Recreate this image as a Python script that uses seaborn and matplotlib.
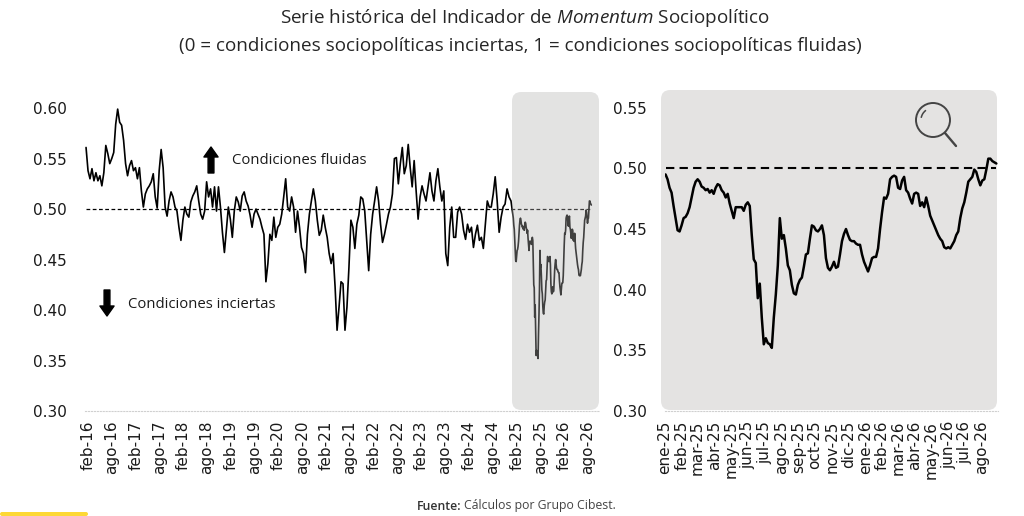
import matplotlib.pyplot as plt
import matplotlib.patches as mpatches
import matplotlib.lines as mlines
import pandas as pd
import seaborn as sns

meses = ["ene", "feb", "mar", "abr", "may", "jun", "jul", "ago", "sep", "oct", "nov", "dic"]

# Serie histórica (lectura aprox. quincenal), ene-16 a dic-24
hist_2016_2019 = [
    0.561, 0.538, 0.530, 0.540, 0.528, 0.536, 0.528, 0.533, 0.523, 0.536,
    0.563, 0.555, 0.545, 0.550, 0.556, 0.584, 0.599, 0.586, 0.583, 0.568,
    0.545, 0.533, 0.543, 0.548, 0.538, 0.541, 0.530, 0.541, 0.518, 0.502,
    0.515, 0.520, 0.523, 0.527, 0.535, 0.512, 0.501, 0.538, 0.559, 0.541,
    0.502, 0.493, 0.508, 0.517, 0.512, 0.502, 0.498, 0.482, 0.469, 0.489,
    0.502, 0.495, 0.492, 0.507, 0.513, 0.517, 0.523, 0.508, 0.495, 0.490,
    0.498, 0.527, 0.512, 0.520, 0.502, 0.522, 0.498, 0.522, 0.502, 0.477,
    0.457, 0.479, 0.502, 0.490, 0.472, 0.498, 0.512, 0.507, 0.498, 0.513,
    0.517, 0.508, 0.503, 0.494, 0.482, 0.495,
]
hist_2019_2022 = [
    0.500, 0.495, 0.490, 0.482, 0.475, 0.428, 0.446, 0.475, 0.469, 0.492,
    0.472, 0.482, 0.485, 0.495, 0.512, 0.530, 0.502, 0.498, 0.512, 0.502,
    0.477, 0.498, 0.482, 0.462, 0.456, 0.437, 0.475, 0.495, 0.508, 0.520,
    0.508, 0.489, 0.474, 0.479, 0.494, 0.482, 0.472, 0.456, 0.446, 0.456,
    0.423, 0.380, 0.403, 0.428, 0.426, 0.380, 0.403, 0.442, 0.489, 0.482,
    0.461, 0.485, 0.494, 0.512, 0.510, 0.498, 0.469, 0.439, 0.475, 0.495,
    0.508, 0.522, 0.508, 0.485, 0.467, 0.475, 0.485, 0.495, 0.502, 0.515,
    0.550, 0.551, 0.525, 0.545, 0.561, 0.535, 0.543, 0.564, 0.541, 0.522,
    0.548, 0.518, 0.490, 0.512, 0.523, 0.515, 0.508, 0.522,
]
hist_2022_2024 = [
    0.536, 0.518, 0.508, 0.528, 0.540, 0.522, 0.508, 0.518, 0.456, 0.444,
    0.482, 0.502, 0.472, 0.472, 0.497, 0.502, 0.495, 0.479, 0.470, 0.485,
    0.477, 0.482, 0.462, 0.475, 0.484, 0.469, 0.472, 0.461, 0.484, 0.508,
    0.502, 0.502, 0.515, 0.532, 0.508, 0.477, 0.492, 0.502, 0.505, 0.520,
    0.512, 0.508,
]
# Detalle ene-25 a ago-26
reciente = [
    0.495, 0.491, 0.484, 0.480, 0.469, 0.459, 0.449, 0.448, 0.453, 0.459,
    0.460, 0.463, 0.468, 0.476, 0.484, 0.489, 0.491, 0.489, 0.485, 0.484,
    0.482, 0.483, 0.480, 0.482, 0.479, 0.484, 0.487, 0.486, 0.482, 0.480,
    0.476, 0.479, 0.471, 0.465, 0.459, 0.468, 0.468, 0.468, 0.468, 0.465,
    0.470, 0.472, 0.469, 0.445, 0.425, 0.422, 0.393, 0.405, 0.377, 0.355,
    0.360, 0.356, 0.355, 0.352, 0.377, 0.396, 0.420, 0.459, 0.442, 0.445,
    0.434, 0.420, 0.416, 0.404, 0.397, 0.396, 0.404, 0.408, 0.410, 0.419,
    0.429, 0.430, 0.442, 0.453, 0.452, 0.449, 0.448, 0.450, 0.453, 0.445,
    0.426, 0.418, 0.416, 0.419, 0.423, 0.418, 0.419, 0.429, 0.440, 0.446,
    0.450, 0.445, 0.441, 0.440, 0.440, 0.438, 0.437, 0.437, 0.429, 0.423,
    0.419, 0.415, 0.420, 0.426, 0.427, 0.427, 0.434, 0.450, 0.464, 0.476,
    0.475, 0.479, 0.491, 0.493, 0.494, 0.493, 0.484, 0.483, 0.490, 0.493,
    0.482, 0.480, 0.475, 0.471, 0.479, 0.480, 0.479, 0.469, 0.472, 0.468,
    0.476, 0.469, 0.461, 0.457, 0.453, 0.449, 0.445, 0.442, 0.440, 0.435,
    0.434, 0.435, 0.434, 0.437, 0.440, 0.445, 0.448, 0.459, 0.467, 0.472,
    0.480, 0.489, 0.491, 0.493, 0.499, 0.497, 0.491, 0.486, 0.490, 0.491,
    0.499, 0.508, 0.508, 0.506, 0.505, 0.504,
]

hist_ini, hist_fin = "2016-01-16", "2024-12-19"
rec_ini, rec_fin = "2025-01-02", "2026-08-27"
umbral = 0.5

hist_vals = hist_2016_2019 + hist_2019_2022 + hist_2022_2024
df_hist = pd.DataFrame({"fecha": pd.date_range(hist_ini, hist_fin, periods=len(hist_vals)),
                        "valor": hist_vals})
df_rec = pd.DataFrame({"fecha": pd.date_range(rec_ini, rec_fin, periods=len(reciente)),
                       "valor": reciente})
df_all = pd.concat([df_hist, df_rec], ignore_index=True)

sns.set_style("white")
plt.rcParams["font.family"] = ["DejaVu Sans"]
plt.rcParams["mathtext.fontset"] = "custom"
plt.rcParams["mathtext.rm"] = "Open Sans"
plt.rcParams["mathtext.it"] = "Open Sans:italic"

W, H = 1024, 516


def fx(x):
    return x / W


def fy(y):
    return 1 - y / H


def etiqueta(d):
    return f"{meses[d.month - 1]}-{d.strftime('%y')}"


fig = plt.figure(figsize=(W / 100, H / 100), dpi=100)
ax1 = fig.add_axes([fx(85), fy(411), fx(599) - fx(85), fy(98) - fy(411)])
ax2 = fig.add_axes([fx(665), fy(411), fx(998) - fx(665), fy(98) - fy(411)])

# Panel izquierdo: serie completa
sns.lineplot(data=df_all, x="fecha", y="valor", ax=ax1, color="black", linewidth=1.2)
ax1.hlines(umbral, df_all.fecha.iloc[0], df_all.fecha.iloc[-1], colors="black",
           linestyles=(0, (3, 2)), lw=0.9)
ax1.set_xlim(pd.Timestamp("2016-01-08"), pd.Timestamp("2026-10-25"))
ax1.set_ylim(0.30, 0.61)
ticks1 = pd.date_range("2016-02-01", "2026-08-01", freq="6MS")
ax1.set_xticks(ticks1)
ax1.set_xticklabels([etiqueta(d) for d in ticks1], rotation=90)
ax1.set_yticks([0.30, 0.35, 0.40, 0.45, 0.50, 0.55, 0.60])

# Panel derecho: zoom 2025-2026
sns.lineplot(data=df_rec, x="fecha", y="valor", ax=ax2, color="black", linewidth=1.8)
ax2.hlines(umbral, df_rec.fecha.iloc[0], df_rec.fecha.iloc[-1], colors="black",
           linestyles=(0, (4, 2.5)), lw=1.5)
ax2.set_xlim(pd.Timestamp("2025-01-01"), pd.Timestamp("2026-08-30"))
ax2.set_ylim(0.30, 0.558)
ticks2 = pd.date_range("2025-01-01", "2026-08-01", freq="MS")
ax2.set_xticks(ticks2)
ax2.set_xticklabels([etiqueta(d) for d in ticks2], rotation=90)
ax2.set_yticks([0.30, 0.35, 0.40, 0.45, 0.50, 0.55])

for ax in (ax1, ax2):
    ax.patch.set_alpha(0)
    ax.set_xlabel("")
    ax.set_ylabel("")
    for s in ("left", "top", "right"):
        ax.spines[s].set_visible(False)
    ax.spines["bottom"].set_color("#d0d0d0")
    ax.spines["bottom"].set_linestyle(":")
    ax.spines["bottom"].set_linewidth(0.8)
    ax.tick_params(axis="x", direction="inout", length=4, color="#d0d0d0",
                   labelsize=11, labelcolor="#1a1a1a", pad=5)
    ax.tick_params(axis="y", length=0, labelsize=11, labelcolor="#1a1a1a", pad=13)
    ax.yaxis.set_major_formatter(plt.FormatStrFormatter("%.2f"))

# Recuadros grises
asp = W / H
caja_der = mpatches.FancyBboxPatch((fx(661), fy(410)), fx(997) - fx(661), fy(90) - fy(410),
                                   boxstyle="round,pad=0,rounding_size=0.009",
                                   mutation_aspect=asp, transform=fig.transFigure,
                                   facecolor="#e4e3e2", edgecolor="none", zorder=-1)
caja_izq = mpatches.FancyBboxPatch((fx(512), fy(410)), fx(599) - fx(512), fy(92) - fy(410),
                                   boxstyle="round,pad=0,rounding_size=0.009",
                                   mutation_aspect=asp, transform=fig.transFigure,
                                   facecolor="#b3b2b1", alpha=0.36, edgecolor="none", zorder=5)
fig.patches.extend([caja_der, caja_izq])

# Lupa
lupa = mpatches.Ellipse((fx(933), fy(120)), 34 / W, 34 / H, transform=fig.transFigure,
                        fill=False, edgecolor="#444444", lw=1.4, zorder=6)
brillo = mpatches.Arc((fx(933), fy(120)), 24 / W, 24 / H, theta1=110, theta2=160,
                      transform=fig.transFigure, edgecolor="#444444", lw=1.1, zorder=6)
mango = mlines.Line2D([fx(945), fx(956)], [fy(133), fy(146)], transform=fig.transFigure,
                      color="#444444", lw=1.7, solid_capstyle="round", zorder=6)
fig.patches.extend([lupa, brillo])
fig.lines.append(mango)

# Flechas y textos
flecha = dict(arrowstyle="simple,head_length=0.6,head_width=0.85,tail_width=0.35",
              color="black", mutation_scale=12, shrinkA=0, shrinkB=0)
ax1.annotate("", xy=(fx(211), fy(147)), xytext=(fx(211), fy(173)),
             xycoords="figure fraction", textcoords="figure fraction", arrowprops=flecha)
ax1.annotate("", xy=(fx(107), fy(316)), xytext=(fx(107), fy(290)),
             xycoords="figure fraction", textcoords="figure fraction", arrowprops=flecha)
fig.text(fx(232), fy(161), "Condiciones fluidas", family="Open Sans", fontsize=10.7,
         color="#1a1a1a", va="center", ha="left")
fig.text(fx(128), fy(304), "Condiciones inciertas", family="Open Sans", fontsize=10.7,
         color="#1a1a1a", va="center", ha="left")

# Títulos
fig.text(fx(525), fy(18), r"Serie histórica del Indicador de $\it{Momentum}$ Sociopolítico",
         family="Open Sans", fontsize=13.6, color="#262626", ha="center", va="center")
fig.text(fx(520), fy(46),
         "(0 = condiciones sociopolíticas inciertas, 1 = condiciones sociopolíticas fluidas)",
         family="Open Sans", fontsize=13.6, color="#262626", ha="center", va="center")
fig.text(fx(461), fy(506), "Fuente:", family="Open Sans", fontweight="semibold",
         fontsize=8.8, color="#333333", ha="right", va="center")
fig.text(fx(464), fy(506), "Cálculos por Grupo Cibest.", family="Open Sans",
         fontsize=8.8, color="#444444", ha="left", va="center")

# Barra amarilla inferior
barra = mpatches.FancyBboxPatch((0, 0), fx(88), 4 / H, boxstyle="round,pad=0,rounding_size=0.002",
                                mutation_aspect=asp, transform=fig.transFigure,
                                facecolor="#fdd835", edgecolor="none")
fig.patches.append(barra)

fig.savefig("out.png", dpi=100)
